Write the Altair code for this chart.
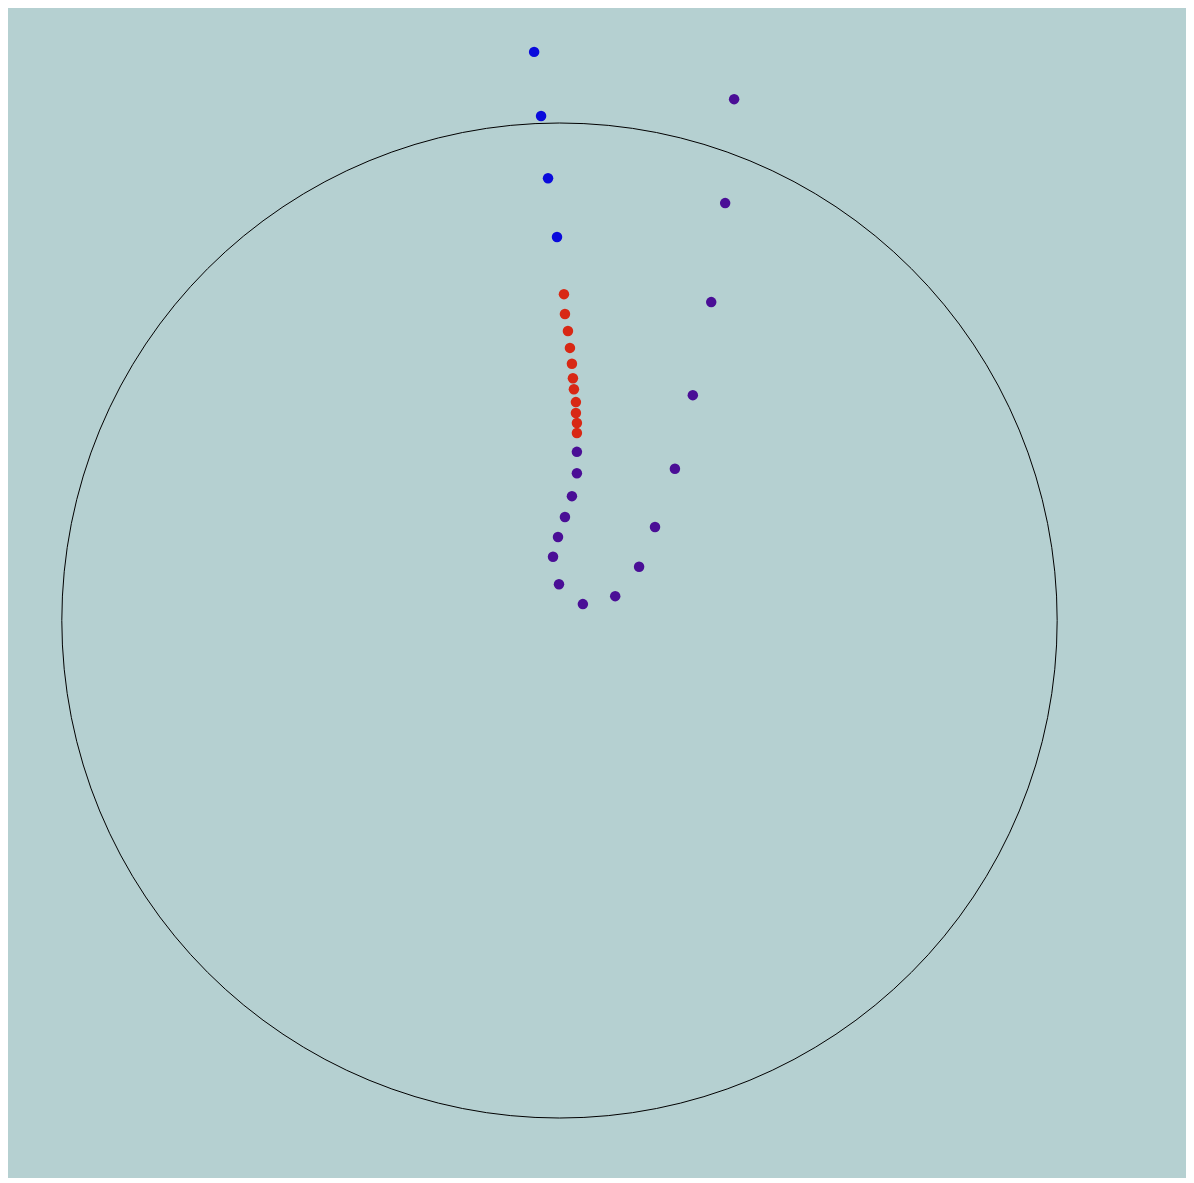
import altair as alt
import pandas as pd

# Data (unit circle coordinates)
blue_x = [-0.051, -0.037, -0.023, -0.005]
blue_y = [1.143, 1.014, 0.889, 0.771]

red_x = [0.009, 0.011, 0.017, 0.021, 0.025, 0.027, 0.029, 0.033, 0.033, 0.035, 0.035]
red_y = [0.656, 0.616, 0.582, 0.548, 0.516, 0.487, 0.465, 0.439, 0.417, 0.397, 0.377]

purple_x = [0.035, 0.035, 0.025, 0.011, -0.003, -0.013, -0.001, 0.047, 0.112, 0.160,
            0.192, 0.232, 0.268, 0.305, 0.333, 0.351]
purple_y = [0.339, 0.296, 0.250, 0.208, 0.168, 0.128, 0.073, 0.033, 0.049, 0.108,
            0.188, 0.305, 0.453, 0.640, 0.839, 1.048]

groups = ["blue", "red", "purple"]
colors = ["#0a0adc", "#d82814", "#4a0e96"]

rows = []
for g, xs, ys in zip(groups, [blue_x, red_x, purple_x], [blue_y, red_y, purple_y]):
    for x, y in zip(xs, ys):
        rows.append({"x": x, "y": y, "g": g})
df = pd.DataFrame(rows)

W, H = 1178, 1170
x_dom = [-1.1085, 1.2593]
y_dom = [-1.1206, 1.2312]
px_per_unit = W / (x_dom[1] - x_dom[0])

xs = alt.Scale(domain=x_dom, nice=False, zero=False)
ys = alt.Scale(domain=y_dom, nice=False, zero=False)

circle_df = pd.DataFrame({"cx": [0.0], "cy": [0.0]})
circle = alt.Chart(circle_df).mark_arc(
    theta=0, theta2=6.2832, radius=px_per_unit, radius2=0,
    fillOpacity=0, stroke="black", strokeWidth=1,
).encode(
    x=alt.X("cx:Q", scale=xs, axis=None),
    y=alt.Y("cy:Q", scale=ys, axis=None),
)

points = alt.Chart(df).mark_point(filled=True, shape="circle", size=110, opacity=1).encode(
    x=alt.X("x:Q", scale=xs, axis=None),
    y=alt.Y("y:Q", scale=ys, axis=None),
    color=alt.Color("g:N", scale=alt.Scale(domain=groups, range=colors), legend=None),
)

chart = alt.layer(circle, points).properties(
    width=W, height=H, padding=0,
    autosize=alt.AutoSizeParams(type="fit", contains="padding"),
    background="#b5d0d1",
).configure_view(stroke=None)

chart.save("out.html", embed_options={"renderer": "svg", "actions": False})
